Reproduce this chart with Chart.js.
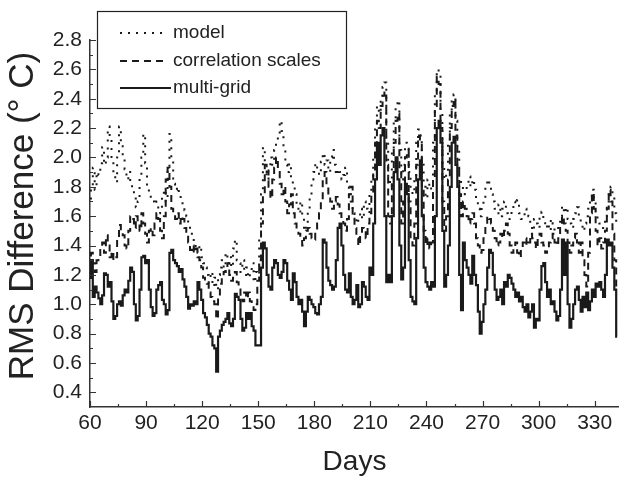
<!DOCTYPE html>
<html><head><meta charset="utf-8">
<script src="https://cdn.jsdelivr.net/npm/chart.js@4.4.0/dist/chart.umd.min.js"></script>
<style>html,body{margin:0;padding:0;background:#fff;}#wrap{width:619px;height:480px;}</style>
</head><body><div id="wrap"><canvas id="c" width="619" height="480"></canvas></div>
<script>
const days = [
60,61,62,63,64,65,66,67,68,69,70,71,72,73,74,75,76,77,78,79,
80,81,82,83,84,85,86,87,88,89,90,91,92,93,94,95,96,97,98,99,
100,101,102,103,104,105,106,107,108,109,110,111,112,113,114,115,116,117,118,119,
120,121,122,123,124,125,126,127,128,129,130,131,132,133,134,135,136,137,138,139,
140,141,142,143,144,145,146,147,148,149,150,151,152,153,154,155,156,157,158,159,
160,161,162,163,164,165,166,167,168,169,170,171,172,173,174,175,176,177,178,179,
180,181,182,183,184,185,186,187,188,189,190,191,192,193,194,195,196,197,198,199,
200,201,202,203,204,205,206,207,208,209,210,211,212,213,214,215,216,217,218,219,
220,221,222,223,224,225,226,227,228,229,230,231,232,233,234,235,236,237,238,239,
240,241,242,243,244,245,246,247,248,249,250,251,252,253,254,255,256,257,258,259,
260,261,262,263,264,265,266,267,268,269,270,271,272,273,274,275,276,277,278,279,
280,281,282,283,284,285,286,287,288,289,290,291,292,293,294,295,296,297,298,299,
300,301,302,303,304,305,306,307,308,309,310,311,312,313,314,315,316,317,318,319,
320,321,322,323,324,325,326,327,328,329,330,331,332,333,334,335,336,337,338,339,
340,341,342];

const model = [
1.72,1.80,1.93,1.78,1.90,1.88,1.96,2.07,1.95,2.00,2.21,2.12,1.97,1.88,1.83,2.00,2.21,2.10,1.98,1.92,
1.85,1.90,1.82,1.78,1.72,1.66,1.70,1.86,2.00,2.16,1.96,1.80,1.75,1.72,1.70,1.68,1.70,1.62,1.65,1.75,
1.78,1.70,1.93,2.16,2.00,1.82,1.78,1.80,1.75,1.70,1.66,1.64,1.60,1.55,1.50,1.45,1.42,1.38,1.35,1.40,
1.32,1.28,1.25,1.20,1.15,1.22,1.12,1.18,1.10,1.20,1.25,1.30,1.22,1.35,1.28,1.32,1.25,1.38,1.44,1.30,
1.28,1.22,1.30,1.20,1.25,1.18,1.22,1.28,1.15,1.22,1.20,1.45,1.75,2.07,1.95,1.85,1.92,2.00,1.95,2.05,
2.10,2.15,2.25,2.18,2.05,1.95,1.90,1.96,1.85,1.80,1.75,1.68,1.62,1.70,1.60,1.50,1.55,1.65,1.72,1.85,
1.90,1.96,1.92,1.88,1.97,2.03,1.95,1.98,1.90,2.00,2.05,1.95,1.88,1.92,1.90,1.85,1.88,1.93,1.80,1.75,
1.70,1.62,1.58,1.55,1.60,1.65,1.58,1.70,1.65,1.62,1.75,1.85,2.00,2.20,2.35,2.30,2.40,2.48,2.51,2.10,
1.85,1.80,2.05,2.25,2.35,2.39,2.05,1.85,1.95,2.10,2.08,1.90,1.80,1.75,1.85,2.10,2.19,2.15,1.95,1.80,
1.72,1.85,1.78,1.80,2.10,2.45,2.60,2.55,2.30,1.95,1.85,1.90,2.10,2.30,2.40,2.43,2.25,2.05,1.85,1.80,
1.75,1.78,1.82,1.87,1.80,1.85,1.78,1.72,1.65,1.60,1.68,1.72,1.80,1.85,1.83,1.75,1.70,1.65,1.62,1.68,
1.60,1.65,1.70,1.62,1.58,1.60,1.65,1.70,1.68,1.71,1.62,1.58,1.60,1.65,1.62,1.60,1.55,1.50,1.58,1.55,
1.52,1.60,1.63,1.58,1.52,1.55,1.50,1.58,1.55,1.50,1.52,1.55,1.60,1.67,1.62,1.66,1.58,1.55,1.52,1.58,
1.62,1.66,1.60,1.55,1.50,1.55,1.60,1.65,1.72,1.78,1.70,1.62,1.58,1.55,1.52,1.55,1.60,1.70,1.75,1.80,
1.72,1.62,1.55];

const correlationScales = [
1.25,1.35,1.28,1.22,1.30,1.32,1.37,1.42,1.35,1.47,1.40,1.32,1.36,1.30,1.32,1.45,1.54,1.50,1.47,1.40,
1.38,1.50,1.60,1.58,1.52,1.60,1.55,1.50,1.62,1.55,1.48,1.42,1.50,1.52,1.47,1.55,1.62,1.58,1.50,1.45,
1.60,1.85,1.93,1.80,1.65,1.62,1.58,1.62,1.55,1.60,1.58,1.52,1.47,1.42,1.37,1.40,1.35,1.38,1.32,1.30,
1.25,1.18,1.16,1.14,1.08,1.05,1.02,1.00,0.90,1.05,1.14,1.18,1.22,1.25,1.28,1.20,1.16,1.18,1.22,1.15,
1.10,1.05,1.02,1.08,1.04,1.08,1.02,0.98,0.96,1.00,1.16,1.30,1.55,1.75,1.95,1.90,1.80,1.72,1.85,1.93,
2.00,1.90,1.82,1.75,1.80,1.70,1.62,1.68,1.75,1.62,1.55,1.50,1.48,1.45,1.40,1.45,1.50,1.52,1.48,1.45,
1.44,1.50,1.55,1.62,1.70,1.85,1.90,1.80,1.72,1.70,1.65,1.70,1.73,1.68,1.62,1.58,1.55,1.50,1.58,1.75,
1.80,1.60,1.52,1.45,1.40,1.48,1.52,1.50,1.45,1.55,1.62,1.75,1.90,2.10,2.25,2.20,2.35,2.42,2.45,1.95,
1.60,1.55,1.85,2.10,2.25,2.30,1.90,1.55,1.70,2.00,2.05,1.70,1.45,1.40,1.55,1.95,2.15,2.10,1.80,1.50,
1.40,1.45,1.38,1.42,1.85,2.35,2.55,2.50,2.20,1.70,1.50,1.60,1.85,2.20,2.35,2.40,2.15,1.95,1.75,1.60,
1.70,1.65,1.60,1.55,1.58,1.62,1.55,1.45,1.40,1.35,1.37,1.45,1.52,1.60,1.58,1.55,1.50,1.45,1.40,1.42,
1.48,1.45,1.50,1.55,1.48,1.40,1.35,1.38,1.42,1.35,1.32,1.38,1.42,1.45,1.40,1.42,1.48,1.45,1.42,1.38,
1.45,1.48,1.42,1.40,1.35,1.38,1.42,1.45,1.48,1.42,1.40,1.45,1.52,1.60,1.55,1.50,1.42,1.35,1.40,1.45,
1.48,1.42,1.35,1.42,1.30,1.20,1.12,1.35,1.62,1.76,1.65,1.50,1.40,1.45,1.38,1.42,1.50,1.65,1.78,1.70,
1.48,1.30,1.10];

const multiGrid = [
1.18,1.30,1.05,1.12,1.08,1.04,1.00,1.06,1.21,1.20,1.12,1.15,1.02,0.90,0.92,1.00,1.02,0.99,1.06,1.10,
1.08,1.16,1.25,1.22,1.00,0.89,0.92,1.10,1.32,1.33,1.28,1.30,1.10,0.98,0.92,0.94,1.10,1.13,1.15,1.03,
1.00,0.93,0.96,1.35,1.37,1.30,1.28,1.26,1.22,1.24,1.17,1.12,1.05,0.97,1.00,0.99,1.02,1.00,1.15,1.10,
1.03,0.94,0.91,0.86,0.80,0.78,0.72,0.70,0.54,0.78,0.82,0.86,0.88,0.90,0.94,0.87,0.85,0.90,1.07,1.05,
1.03,0.90,0.82,0.84,0.94,0.90,0.94,0.85,0.82,0.72,0.72,0.72,1.25,1.42,1.38,1.20,1.12,1.10,1.25,1.30,
1.28,1.20,1.18,1.22,1.30,1.28,1.16,1.10,1.03,1.21,1.15,1.05,1.00,1.03,0.95,0.85,0.95,1.05,1.03,1.00,
0.98,0.94,0.93,1.00,1.05,1.44,1.42,1.25,1.16,1.13,1.10,1.12,1.30,1.52,1.55,1.40,1.20,1.10,1.08,1.21,
1.05,1.00,1.03,1.13,0.98,1.00,1.15,1.12,1.05,1.03,1.25,1.20,1.55,1.85,2.10,1.95,2.15,2.20,1.60,1.15,
1.20,1.15,1.60,1.90,2.00,1.85,1.40,1.17,1.25,1.82,1.75,1.30,1.05,1.02,1.00,1.45,1.85,1.98,1.60,1.25,
1.15,1.12,1.10,1.15,1.12,1.60,2.20,2.25,2.10,1.50,1.12,1.20,1.40,1.80,2.10,2.14,1.95,1.80,1.20,0.96,
1.42,1.30,1.25,1.20,1.14,1.33,1.20,1.13,0.95,0.80,0.88,1.00,1.10,1.25,1.37,1.35,1.20,1.10,1.03,1.05,
1.10,1.00,1.15,1.12,1.20,1.18,1.14,1.10,1.05,1.08,1.02,1.05,0.98,0.95,1.00,0.91,0.95,1.00,0.84,0.90,
0.89,1.10,1.26,1.28,1.15,1.05,1.10,1.00,1.02,0.95,0.89,0.92,1.10,1.44,1.20,1.42,1.00,0.84,0.90,1.00,
1.10,1.12,1.03,0.95,1.05,0.98,1.08,0.96,1.02,1.10,1.05,1.14,1.12,1.15,1.10,1.05,1.20,1.44,1.40,1.42,
1.25,1.10,0.78];

const seriesLabels = ['model', 'correlation scales', 'multi-grid'];
const xTicks = [60, 90, 120, 150, 180, 210, 240, 270, 300, 330];
const xMinorTicks = [75, 105, 135, 165, 195, 225, 255, 285, 315];
const yTicks = [0.4, 0.6, 0.8, 1.0, 1.2, 1.4, 1.6, 1.8, 2.0, 2.2, 2.4, 2.6, 2.8];
const yMinorTicks = [0.5, 0.7, 0.9, 1.1, 1.3, 1.5, 1.7, 1.9, 2.1, 2.3, 2.5, 2.7];
const xTitle = 'Days';
const yTitle = 'RMS Difference (° C)';

const FONT = "'Liberation Sans', Arial, Helvetica, sans-serif";
const INK = '#1a1a1a';

function pts(vals) { return vals.map((v, i) => ({ x: days[i], y: v })); }

const decor = {
  id: 'decor',
  afterDraw(chart) {
    const ctx = chart.ctx;
    const { top, bottom, left } = chart.chartArea;
    const xs = chart.scales.x, ys = chart.scales.y;
    ctx.save();
    ctx.strokeStyle = '#333';
    ctx.lineWidth = 1.2;
    ctx.beginPath();
    xTicks.forEach(v => { const p = Math.round(xs.getPixelForValue(v)) + 0.5; ctx.moveTo(p, bottom); ctx.lineTo(p, bottom - 6); });
    xMinorTicks.forEach(v => { const p = Math.round(xs.getPixelForValue(v)) + 0.5; ctx.moveTo(p, bottom); ctx.lineTo(p, bottom - 3); });
    yTicks.forEach(v => { const p = Math.round(ys.getPixelForValue(v)) + 0.5; ctx.moveTo(left, p); ctx.lineTo(left + 6, p); });
    yMinorTicks.forEach(v => { const p = Math.round(ys.getPixelForValue(v)) + 0.5; ctx.moveTo(left, p); ctx.lineTo(left + 3, p); });
    ctx.stroke();

    // y axis title
    ctx.save();
    ctx.translate(23, 216);
    ctx.rotate(-Math.PI / 2);
    ctx.fillStyle = '#222';
    ctx.font = "35px " + FONT;
    ctx.textAlign = 'center';
    ctx.textBaseline = 'middle';
    ctx.fillText(yTitle, 0, 0);
    ctx.restore();

    // legend box
    const bx = 97.5, by = 11.5, bw = 249, bh = 97;
    ctx.fillStyle = '#fff';
    ctx.fillRect(bx, by, bw, bh);
    ctx.strokeStyle = '#222';
    ctx.lineWidth = 1.2;
    ctx.strokeRect(bx, by, bw, bh);
    const rows = [33, 61, 88];
    chart.data.datasets.forEach((ds, i) => {
      const y = rows[i];
      ctx.beginPath();
      ctx.setLineDash(ds.borderDash || []);
      ctx.lineWidth = 2;
      ctx.strokeStyle = INK;
      ctx.moveTo(120, y);
      ctx.lineTo(i === 2 ? 171 : 165, y);
      ctx.stroke();
      ctx.setLineDash([]);
      ctx.fillStyle = '#222';
      ctx.font = "19px " + FONT;
      ctx.textBaseline = 'middle';
      ctx.textAlign = 'left';
      ctx.fillText(ds.label, 173, y);
    });
    ctx.restore();
  }
};

new Chart(document.getElementById('c'), {
  type: 'line',
  data: {
    datasets: [
      { label: seriesLabels[0], data: pts(model), borderColor: INK, borderWidth: 2, borderDash: [2, 6], pointRadius: 0, stepped: 'middle', fill: false },
      { label: seriesLabels[1], data: pts(correlationScales), borderColor: INK, borderWidth: 2, borderDash: [7, 5], pointRadius: 0, stepped: 'middle', fill: false },
      { label: seriesLabels[2], data: pts(multiGrid), borderColor: INK, borderWidth: 2.2, pointRadius: 0, stepped: 'middle', fill: false }
    ]
  },
  options: {
    responsive: false,
    animation: false,
    devicePixelRatio: 1,
    layout: { padding: { top: 40, left: 0, right: 0, bottom: 0 } },
    plugins: { legend: { display: false }, tooltip: { enabled: false } },
    scales: {
      x: {
        type: 'linear', min: 60, max: 343,
        afterBuildTicks: s => { s.ticks = xTicks.map(v => ({ value: v })); },
        afterFit: s => { s.height = 73; },
        grid: { display: true, drawOnChartArea: false, drawTicks: false },
        border: { display: true, color: '#333', width: 1.5 },
        ticks: { color: '#222', font: { family: FONT, size: 21 }, padding: 4, maxRotation: 0, autoSkip: false },
        title: { display: true, text: xTitle, color: '#222', font: { family: FONT, size: 28 }, padding: { top: 0, bottom: 1 } }
      },
      y: {
        type: 'linear', min: 0.3, max: 2.8,
        afterBuildTicks: s => { s.ticks = yTicks.map(v => ({ value: v })); },
        afterFit: s => { s.width = 90; },
        grid: { display: true, drawOnChartArea: false, drawTicks: false },
        border: { display: true, color: '#333', width: 1.5 },
        ticks: { color: '#222', font: { family: FONT, size: 21 }, padding: 8, callback: v => Number(v).toFixed(1) },
        title: { display: false, text: yTitle }
      }
    }
  },
  plugins: [decor]
});
</script></body></html>
